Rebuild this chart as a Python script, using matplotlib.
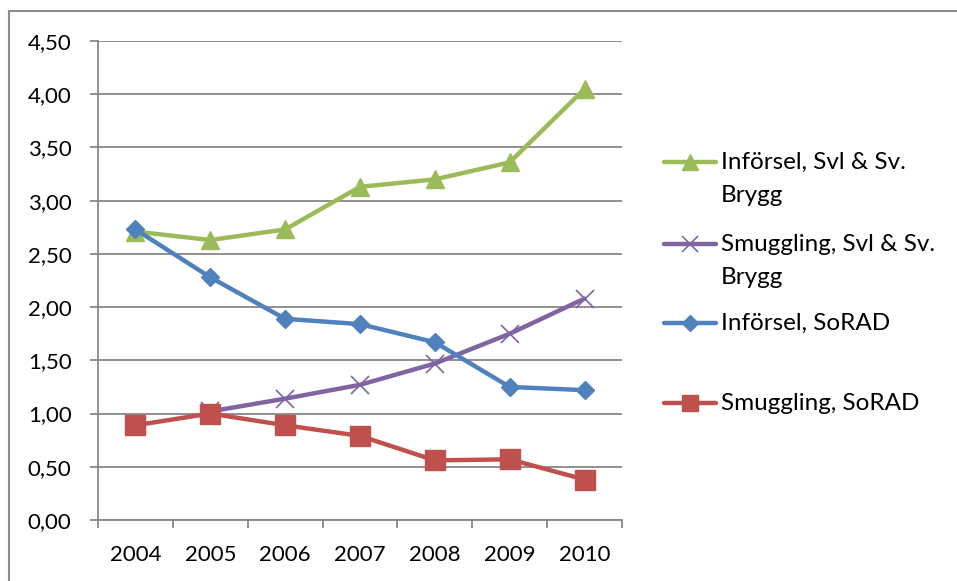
import numpy as np
import matplotlib
matplotlib.use("Agg")
import matplotlib.pyplot as plt
from matplotlib.lines import Line2D

plt.rcParams['font.family'] = ['Lato', 'DejaVu Sans']

years = ['2004', '2005', '2006', '2007', '2008', '2009', '2010']
inforsel_svl = [2.71, 2.63, 2.73, 3.13, 3.20, 3.36, 4.05]
smuggling_svl = [np.nan, 1.02, 1.14, 1.27, 1.47, 1.75, 2.08]
inforsel_sorad = [2.73, 2.28, 1.89, 1.84, 1.67, 1.25, 1.22]
smuggling_sorad = [0.89, 1.00, 0.89, 0.79, 0.56, 0.57, 0.38]

labels = [['Införsel, Svl & Sv.', 'Brygg'], ['Smuggling, Svl & Sv.', 'Brygg'],
          ['Införsel, SoRAD'], ['Smuggling, SoRAD']]
colors = ['#9BBB59', '#8064A2', '#4F81BD', '#C0504D']
markers = ['^', 'x', 'D', 's']
msizes = [13, 13, 9.5, 14]
series = [inforsel_svl, smuggling_svl, inforsel_sorad, smuggling_sorad]

W, H = 957, 581
fig = plt.figure(figsize=(W / 100, H / 100), dpi=100)
ax = fig.add_axes([98 / W, (H - 520) / H, (622 - 98) / W, (520 - 41) / H])

x = np.arange(len(years))
grid_c = '#878787'
LW = 3.2
for i in [1, 0, 2, 3]:
    mew = 1.2 if markers[i] == 'x' else 1
    ax.plot(x, series[i], color=colors[i], lw=LW, marker=markers[i],
            ms=msizes[i], mec=colors[i], mfc=colors[i], mew=mew,
            solid_joinstyle='round', solid_capstyle='round', zorder=3, clip_on=False)

ax.set_xlim(-0.5, len(years) - 0.5)
ax.set_ylim(0, 4.5)
yt = np.arange(0, 4.51, 0.5)
ax.set_yticks(yt)
ax.set_yticklabels([f"{v:.2f}".replace('.', ',') for v in yt])
ax.yaxis.grid(True, color=grid_c, lw=1.3)
ax.set_axisbelow(True)
ax.set_xticks(x)
ax.set_xticklabels(years)
ax.set_xticks(np.arange(-0.5, len(years), 1.0), minor=True)
ax.tick_params(axis='x', which='major', length=0, pad=18, labelsize=16)
ax.tick_params(axis='x', which='minor', length=6, width=1.3, color=grid_c, direction='out')
ax.tick_params(axis='y', which='major', length=6, width=1.3, color=grid_c, pad=13, labelsize=16)
for s in ['top', 'right']:
    ax.spines[s].set_visible(False)
for s in ['left', 'bottom']:
    ax.spines[s].set_color(grid_c)
    ax.spines[s].set_linewidth(1.3)

# legend drawn manually
leg_y = [162, 244, 323, 403]
for i in range(4):
    yy = 1 - leg_y[i] / H
    mew = 1.2 if markers[i] == 'x' else 1
    fig.add_artist(Line2D([664 / W, 716 / W], [yy, yy], transform=fig.transFigure,
                          color=colors[i], lw=LW, solid_capstyle='round'))
    fig.add_artist(Line2D([690 / W], [yy], transform=fig.transFigure, color=colors[i],
                          marker=markers[i], ms=msizes[i] * 0.85, mfc=colors[i],
                          mec=colors[i], mew=mew))
    for k, line in enumerate(labels[i]):
        fig.text(721 / W, 1 - (leg_y[i] + 33 * k) / H, line, fontsize=17.5,
                 va='center', ha='left', transform=fig.transFigure)

# outer chart frame (left and top visible)
fig.add_artist(Line2D([9 / W, 9 / W], [0, 1 - 11 / H], transform=fig.transFigure,
                      color='#8c8c8c', lw=1.5))
fig.add_artist(Line2D([9 / W, 1], [1 - 11 / H, 1 - 11 / H], transform=fig.transFigure,
                      color='#8c8c8c', lw=1.5))

fig.savefig('out.png', dpi=100)
